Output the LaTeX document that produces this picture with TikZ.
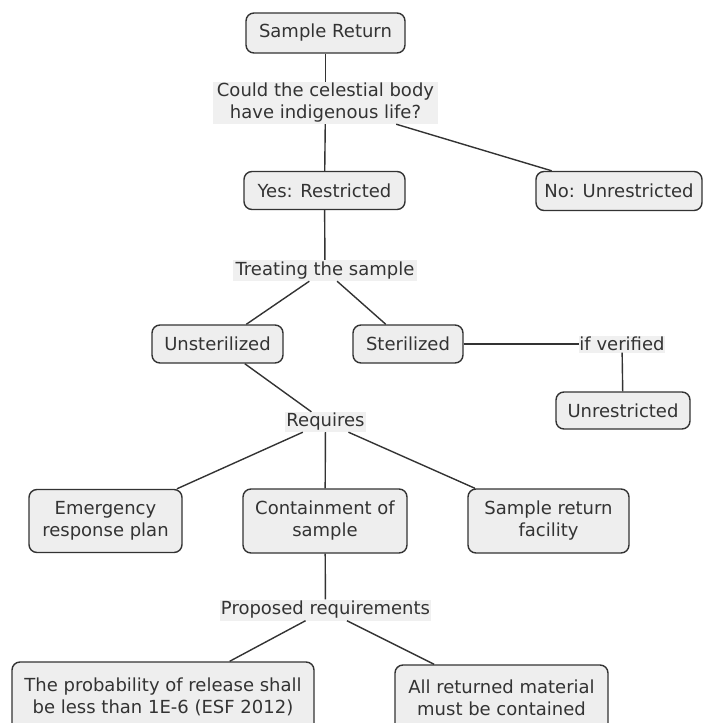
\documentclass[tikz,border=0pt]{standalone}
\usepackage{fontspec}
\setmainfont{DejaVu Sans}
\definecolor{ink}{HTML}{333333}
\definecolor{boxfill}{HTML}{EEEEEE}
\definecolor{tagfill}{HTML}{F0F0F0}

\begin{document}
\begin{tikzpicture}[x=1pt,y=-1pt,
  every node/.style={font=\fontsize{18}{22}\selectfont, text=ink, align=center, inner sep=0pt},
  concept/.style={draw=ink, line width=1.4pt, fill=boxfill, rounded corners=8pt},
  linkword/.style={fill=tagfill},
  link/.style={draw=ink, line width=1.4pt}]
\useasboundingbox (0,0) rectangle (704,723);

% concepts
\node[concept, minimum width=159pt, minimum height=40pt] (sr)    at (325.5,33)  {Sample Return};
\node[concept, minimum width=161pt, minimum height=38pt] (yes)   at (324.5,190.5) {Yes: Restricted};
\node[concept, minimum width=166pt, minimum height=39pt] (no)    at (619,191)   {No: Unrestricted};
\node[concept, minimum width=131pt, minimum height=38pt] (unst)  at (217.5,344) {Unsterilized};
\node[concept, minimum width=110pt, minimum height=38pt] (ster)  at (408,344)   {Sterilized};
\node[concept, minimum width=134pt, minimum height=37pt] (unr)   at (623,410.5) {Unrestricted};
\node[concept, minimum width=153pt, minimum height=63pt] (emer)  at (105.5,521) {Emergency\\response plan};
\node[concept, minimum width=164pt, minimum height=64pt] (cont)  at (325,521)   {Containment of\\sample};
\node[concept, minimum width=161pt, minimum height=64pt] (facil) at (548.5,521) {Sample return\\facility};
\node[concept, minimum width=302pt, minimum height=70pt] (prob)  at (163,697)   {The probability of release shall\\be less than 1E-6 (ESF 2012)};
\node[concept, minimum width=213pt, minimum height=66pt] (all)   at (501.5,698) {All returned material\\must be contained};

% linking phrases
\node[linkword, minimum width=225pt, minimum height=42pt] (q)     at (325.5,103) {Could the celestial body\\have indigenous life?};
\node[linkword, minimum width=184pt, minimum height=21pt] (treat) at (325,270.5) {Treating the sample};
\node[linkword, minimum width=85pt,  minimum height=17pt] (ifv)   at (622,344)   {if verified};
\node[linkword, minimum width=81pt,  minimum height=20pt] (req)   at (325.5,422) {Requires};
\node[linkword, minimum width=211pt, minimum height=21pt] (prop)  at (325.5,610) {Proposed requirements};

% connectors
\draw[link] (sr) -- (q);
\draw[link] (q) -- (yes);
\draw[link] (q) -- (no);
\draw[link] (yes) -- (treat);
\draw[link] (treat) -- (unst);
\draw[link] (treat) -- (ster);
\draw[link] (ster) -- (ifv);
\draw[link] (ifv) -- (unr);
\draw[link] (unst) -- (req);
\draw[link] (req) -- (emer);
\draw[link] (req) -- (cont);
\draw[link] (req) -- (facil);
\draw[link] (cont) -- (prop);
\draw[link] (prop) -- (prob);
\draw[link] (prop) -- (all);
\end{tikzpicture}
\end{document}
